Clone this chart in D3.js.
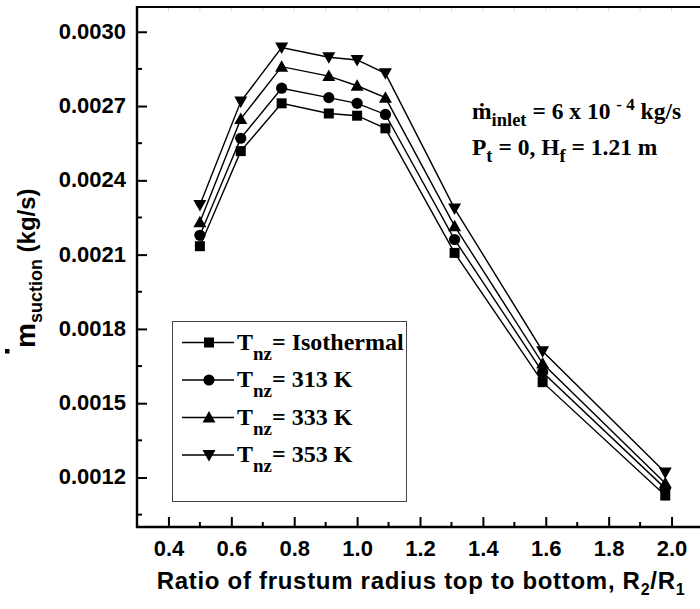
<!DOCTYPE html>
<html>
<head>
<meta charset="utf-8">
<script src="https://cdn.jsdelivr.net/npm/d3@7"></script>
<style>
  html, body { margin: 0; padding: 0; background: #fff; }
  svg { display: block; }
</style>
</head>
<body>
<svg id="chart" width="700" height="609"></svg>
<script>
// Frustum radius ratio R2/R1 at which the suction mass flow was evaluated
const ratios = [0.5, 0.63, 0.76, 0.91, 1.0, 1.09, 1.31, 1.59, 1.98];

// Suction mass flow rate (kg/s) for each nozzle temperature case
const isothermal = [0.002134, 0.002518, 0.002711, 0.00267, 0.002661, 0.00261, 0.002107, 0.001585, 0.001127];
const t313 = [0.002178, 0.00257, 0.002772, 0.002734, 0.002711, 0.002666, 0.002161, 0.001625, 0.001156];
const t333 = [0.002231, 0.002648, 0.002859, 0.002821, 0.002782, 0.002734, 0.002215, 0.00166, 0.001177];
const t353 = [0.0023, 0.002718, 0.002936, 0.002897, 0.002886, 0.002832, 0.002286, 0.00171, 0.00122];

const seriesNames = ["Isothermal", "313 K", "333 K", "353 K"];
const seriesValues = [isothermal, t313, t333, t353];
const seriesSymbols = ["square", "circle", "triangleUp", "triangleDown"];

const xTicks = [0.4, 0.6, 0.8, 1.0, 1.2, 1.4, 1.6, 1.8, 2.0];
const yTicks = [0.0012, 0.0015, 0.0018, 0.0021, 0.0024, 0.0027, 0.0030];

const svg = d3.select("#chart");
const plotLeft = 137, plotRight = 703, plotTop = 7, plotBottom = 527;

const x = d3.scaleLinear().domain([0.3, 2.1]).range([plotLeft, plotRight]);
const y = d3.scaleLinear().domain([0.0010, 0.0031]).range([plotBottom, plotTop]);

const sans = "'Liberation Sans', Arial, sans-serif";
const serif = "'Liberation Serif', 'Times New Roman', serif";

// minor tick values halfway between the labelled ones
const xMinor = d3.range(0.5, 2.1, 0.2).map(v => +v.toFixed(2));
const yMinor = d3.range(0.00105, 0.0031, 0.0003).map(v => +v.toFixed(5));

// faint ticks along the top frame
svg.append("g")
  .selectAll("line")
  .data(xTicks.concat(xMinor))
  .join("line")
  .attr("x1", d => x(d)).attr("x2", d => x(d))
  .attr("y1", plotTop).attr("y2", plotTop + 4)
  .attr("stroke", "#d8d8d8").attr("stroke-width", 1);

// bottom axis
const xAxis = svg.append("g").attr("transform", `translate(0,${plotBottom})`);
xAxis.call(d3.axisBottom(x).tickValues(xTicks).tickSize(-10).tickFormat(d3.format(".1f")));
xAxis.select(".domain").remove();
xAxis.selectAll(".tick line").attr("stroke", "#000").attr("stroke-width", 2);
xAxis.selectAll(".tick text")
  .attr("font-family", sans).attr("font-weight", "bold").attr("font-size", 22)
  .attr("fill", "#000").attr("y", 29).attr("dy", 0);
xAxis.selectAll(".minor")
  .data(xMinor).join("line").attr("class", "minor")
  .attr("x1", d => x(d)).attr("x2", d => x(d))
  .attr("y1", 0).attr("y2", -5)
  .attr("stroke", "#000").attr("stroke-width", 2);

// left axis
const yAxis = svg.append("g").attr("transform", `translate(${plotLeft},0)`);
yAxis.call(d3.axisLeft(y).tickValues(yTicks).tickSize(-10).tickFormat(d3.format(".4f")));
yAxis.select(".domain").remove();
yAxis.selectAll(".tick line").attr("stroke", "#000").attr("stroke-width", 2);
yAxis.selectAll(".tick text")
  .attr("font-family", sans).attr("font-weight", "bold").attr("font-size", 22)
  .attr("fill", "#000").attr("x", -11).attr("dy", "0.29em");
yAxis.selectAll(".minor")
  .data(yMinor).join("line").attr("class", "minor")
  .attr("x1", 0).attr("x2", 5)
  .attr("y1", d => y(d)).attr("y2", d => y(d))
  .attr("stroke", "#000").attr("stroke-width", 2);

// frame lines
svg.append("line").attr("x1", plotLeft).attr("x2", plotLeft).attr("y1", plotTop - 1).attr("y2", plotBottom + 1)
  .attr("stroke", "#000").attr("stroke-width", 2.4);
svg.append("line").attr("x1", plotLeft - 1).attr("x2", plotRight).attr("y1", plotBottom).attr("y2", plotBottom)
  .attr("stroke", "#000").attr("stroke-width", 2.4);
svg.append("line").attr("x1", plotLeft - 1).attr("x2", plotRight).attr("y1", plotTop).attr("y2", plotTop)
  .attr("stroke", "#000").attr("stroke-width", 2.2);

// marker shapes
function drawSymbol(g, kind, cx, cy) {
  if (kind === "square") {
    g.append("rect").attr("x", cx - 5).attr("y", cy - 5).attr("width", 10).attr("height", 10).attr("fill", "#000");
  } else if (kind === "circle") {
    g.append("circle").attr("cx", cx).attr("cy", cy).attr("r", 5.6).attr("fill", "#000");
  } else if (kind === "triangleUp") {
    g.append("path").attr("d", `M${cx},${cy - 6.5}L${cx + 6.5},${cy + 5}L${cx - 6.5},${cy + 5}Z`).attr("fill", "#000");
  } else {
    g.append("path").attr("d", `M${cx},${cy + 6.5}L${cx + 6.5},${cy - 5}L${cx - 6.5},${cy - 5}Z`).attr("fill", "#000");
  }
}

const line = d3.line().x(d => x(d[0])).y(d => y(d[1]));
seriesValues.forEach((vals, i) => {
  const pts = ratios.map((r, j) => [r, vals[j]]);
  const g = svg.append("g");
  g.append("path").attr("d", line(pts)).attr("fill", "none").attr("stroke", "#000").attr("stroke-width", 1.4);
  pts.forEach(p => drawSymbol(g, seriesSymbols[i], x(p[0]), y(p[1])));
});

// legend
const lg = svg.append("g");
lg.append("rect").attr("x", 172.5).attr("y", 321.5).attr("width", 234).attr("height", 180)
  .attr("fill", "#fff").attr("stroke", "#444").attr("stroke-width", 1);
seriesNames.forEach((name, i) => {
  const cy = 342.5 + i * 37.5;
  lg.append("line").attr("x1", 182).attr("x2", 234).attr("y1", cy).attr("y2", cy)
    .attr("stroke", "#000").attr("stroke-width", 1.4);
  drawSymbol(lg, seriesSymbols[i], 209, cy);
  const t = lg.append("text").attr("x", 237).attr("y", cy + 7)
    .attr("font-family", serif).attr("font-weight", "bold").attr("font-size", 24).attr("fill", "#000");
  t.append("tspan").text("T");
  t.append("tspan").attr("font-size", 19).attr("dy", 10).text("nz");
  t.append("tspan").attr("dy", -10).text("= " + name);
});

// operating conditions note
const n1 = svg.append("text").attr("x", 472).attr("y", 119)
  .attr("font-family", serif).attr("font-weight", "bold").attr("font-size", 23.5).attr("fill", "#000");
n1.append("tspan").text("ṁ");
n1.append("tspan").attr("font-size", 18.5).attr("dy", 7).text("inlet");
n1.append("tspan").attr("dy", -7).text(" = 6 x 10 ");
n1.append("tspan").attr("font-size", 17).attr("dy", -9).text("- 4");
n1.append("tspan").attr("dy", 9).text(" kg/s");

const n2 = svg.append("text").attr("x", 472).attr("y", 155)
  .attr("font-family", serif).attr("font-weight", "bold").attr("font-size", 23.5).attr("fill", "#000");
n2.append("tspan").text("P");
n2.append("tspan").attr("font-size", 18.5).attr("dy", 7).text("t");
n2.append("tspan").attr("dy", -7).text(" = 0, H");
n2.append("tspan").attr("font-size", 18.5).attr("dy", 7).text("f");
n2.append("tspan").attr("dy", -7).text(" = 1.21 m");

// x axis title
const xt = svg.append("text").attr("x", 421).attr("y", 589).attr("text-anchor", "middle")
  .attr("font-family", sans).attr("font-weight", "bold").attr("font-size", 24)
  .attr("letter-spacing", 0.7).attr("fill", "#000");
xt.append("tspan").text("Ratio of frustum radius top to bottom, R");
xt.append("tspan").attr("font-size", 16).attr("dy", 6).text("2");
xt.append("tspan").attr("dy", -6).text("/R");
xt.append("tspan").attr("font-size", 16).attr("dy", 6).text("1");

// y axis title, rotated
const yt = svg.append("text").attr("transform", "translate(35,348) rotate(-90)")
  .attr("font-family", sans).attr("font-weight", "bold").attr("font-size", 24).attr("fill", "#000");
yt.append("tspan").attr("font-size", 28).text("m");
yt.append("tspan").attr("font-size", 18).attr("dy", 7).text("suction");
yt.append("tspan").attr("dy", -7).text(" (kg/s)");
// dot over the m of the title
svg.append("rect").attr("x", 5).attr("y", 349).attr("width", 4.5).attr("height", 4.5).attr("fill", "#000");
</script>
</body>
</html>
